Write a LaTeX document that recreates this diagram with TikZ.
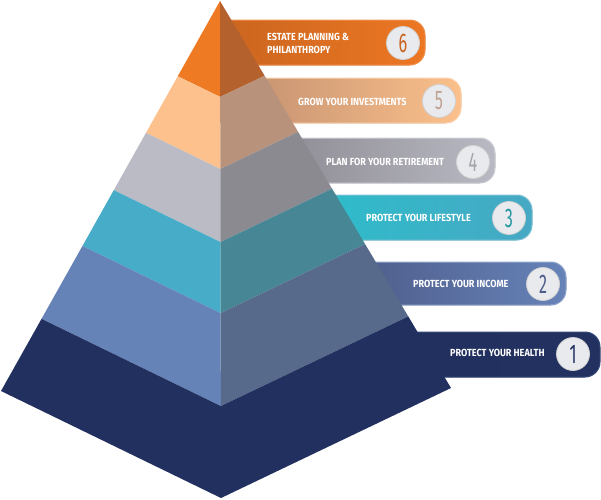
\documentclass[tikz,border=0pt]{standalone}
\usepackage{fontspec}
\usetikzlibrary{calc}
\newfontfamily\labfont[FakeStretch=0.88]{Fira Sans}
\newfontfamily\numfont[FakeStretch=0.6]{Fira Sans}
% pyramid faces
\definecolor{orL}{HTML}{EE7B24}\definecolor{orR}{HTML}{B4612D}
\definecolor{peL}{HTML}{FDC18E}\definecolor{peR}{HTML}{B8927A}
\definecolor{grL}{HTML}{BBBBC5}\definecolor{grR}{HTML}{8B8A91}
\definecolor{teL}{HTML}{47ACC7}\definecolor{teR}{HTML}{468695}
\definecolor{blL}{HTML}{6683B8}\definecolor{blR}{HTML}{586A8B}
\definecolor{nav}{HTML}{21305F}
% ribbons
\definecolor{or1}{HTML}{C9641F}\definecolor{or2}{HTML}{EC7723}
\definecolor{pe1}{HTML}{C59271}\definecolor{pe2}{HTML}{FBC08B}
\definecolor{gr1}{HTML}{8E8D95}\definecolor{gr2}{HTML}{B9B9C3}
\definecolor{te1}{HTML}{2DBDCA}\definecolor{te2}{HTML}{47A8C4}
\definecolor{bl1}{HTML}{4F5D8B}\definecolor{bl2}{HTML}{6683B8}
\definecolor{nv1}{HTML}{21305F}\definecolor{nv2}{HTML}{22315F}
\definecolor{circ}{HTML}{E9EAEE}
\begin{document}
\begin{tikzpicture}[x=1pt,y=-1pt,
  ribbon/.style={rounded corners=15pt},
  numcirc/.style={circle,fill=circ,draw=black!18,line width=0.8pt,minimum size=33pt,inner sep=0pt,font=\numfont\fontsize{27}{27}\selectfont},
  lab/.style={anchor=west,inner sep=0pt,text=white,font=\labfont\bfseries\fontsize{10.3}{13}\selectfont,align=left}]
\useasboundingbox (0,0) rectangle (601,499);
% ---------- ribbons (behind pyramid)
\fill[ribbon,left color=or1,right color=or2] (211,20) rectangle (425,65);
\draw[ribbon,or2!80!white,line width=1pt] (211,20) rectangle (425,65);
\fill[ribbon,left color=pe1,right color=pe2] (246,78) rectangle (461,123);
\draw[ribbon,pe2!70!white,line width=1pt] (246,78) rectangle (461,123);
\fill[ribbon,left color=gr1,right color=gr2] (282,138) rectangle (495,183);
\draw[ribbon,gr2!70!white,line width=1pt] (282,138) rectangle (495,183);
\fill[ribbon,left color=te1,right color=te2] (316,195) rectangle (532,240);
\draw[ribbon,te2!70!white,line width=1pt] (316,195) rectangle (532,240);
\fill[ribbon,left color=bl1,right color=bl2] (356,262) rectangle (566,305);
\draw[ribbon,bl2!70!white,line width=1pt] (356,262) rectangle (566,305);
\fill[ribbon,left color=nv1,right color=nv2] (397,332) rectangle (600,377);
\draw[ribbon,nav!70!blL,line width=1pt] (397,332) rectangle (600,377);
% ---------- pyramid
\coordinate (A) at (220,1);
\coordinate (L) at (1,391);
\coordinate (F) at (221,498);
\coordinate (R) at (451,388);
\coordinate (L1) at ($(A)!0.193!(L)$);\coordinate (F1) at ($(A)!0.193!(F)$);\coordinate (R1) at ($(A)!0.193!(R)$);
\coordinate (L2) at ($(A)!0.338!(L)$);\coordinate (F2) at ($(A)!0.338!(F)$);\coordinate (R2) at ($(A)!0.338!(R)$);
\coordinate (L3) at ($(A)!0.485!(L)$);\coordinate (F3) at ($(A)!0.485!(F)$);\coordinate (R3) at ($(A)!0.485!(R)$);
\coordinate (L4) at ($(A)!0.628!(L)$);\coordinate (F4) at ($(A)!0.628!(F)$);\coordinate (R4) at ($(A)!0.628!(R)$);
\coordinate (L5) at ($(A)!0.815!(L)$);\coordinate (F5) at ($(A)!0.815!(F)$);\coordinate (R5) at ($(A)!0.815!(R)$);
% layer 6 (top)
\fill[orL] (A) -- (L1) -- (F1) -- cycle;
\fill[orR] (A) -- (F1) -- (R1) -- cycle;
% layer 5
\fill[peL] (L1) -- (F1) -- (F2) -- (L2) -- cycle;
\fill[peR] (F1) -- (R1) -- (R2) -- (F2) -- cycle;
% layer 4
\fill[grL] (L2) -- (F2) -- (F3) -- (L3) -- cycle;
\fill[grR] (F2) -- (R2) -- (R3) -- (F3) -- cycle;
% layer 3
\fill[teL] (L3) -- (F3) -- (F4) -- (L4) -- cycle;
\fill[teR] (F3) -- (R3) -- (R4) -- (F4) -- cycle;
% layer 2
\fill[blL] (L4) -- (F4) -- (F5) -- (L5) -- cycle;
\fill[blR] (F4) -- (R4) -- (R5) -- (F5) -- cycle;
% layer 1
\fill[nav] (L5) -- (F5) -- (R5) -- (R) -- (F) -- (L) -- cycle;
% ---------- labels
\node[lab] (t6) at (267,43.5) {ESTATE PLANNING \&\\PHILANTHROPY};
\node[lab] (t5) at (298,102) {GROW YOUR INVESTMENTS};
\node[lab] (t4) at (326,162) {PLAN FOR YOUR RETIREMENT};
\node[lab] (t3) at (366,218) {PROTECT YOUR LIFESTYLE};
\node[lab] (t2) at (413,284) {PROTECT YOUR INCOME};
\node[lab] (t1) at (450,353) {PROTECT YOUR HEALTH};
% ---------- number circles
\node[numcirc,text=or1] (n6) at (403,43) {6};
\node[numcirc,text=pe1!60!gr2] (n5) at (439,101) {5};
\node[numcirc,text=gr1!80!white] (n4) at (473,162) {4};
\node[numcirc,text=te1!80!black] (n3) at (509,218) {3};
\node[numcirc,text=bl1] (n2) at (543,284) {2};
\node[numcirc,text=nav] (n1) at (573,354) {1};
\end{tikzpicture}
\end{document}
